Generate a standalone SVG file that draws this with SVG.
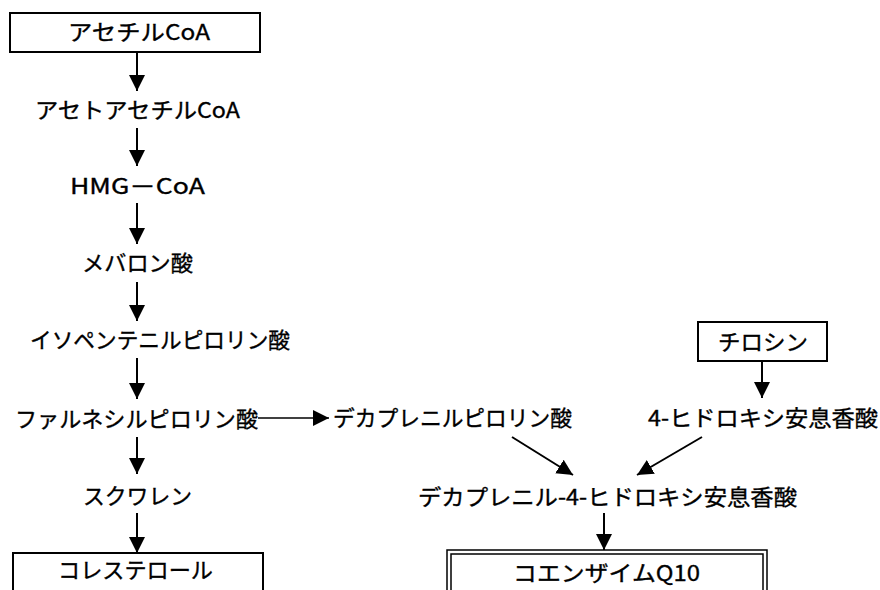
<svg xmlns="http://www.w3.org/2000/svg" width="880" height="590" viewBox="0 0 880 590">
<style>
text{font-family:"Noto Sans CJK JP","Liberation Sans",sans-serif;font-size:22px;fill:#000;stroke:#000;stroke-width:0.35}
.box{fill:#fff;stroke:#000;stroke-width:2}
.dbl{fill:none;stroke:#000;stroke-width:1.5}
.ar{stroke:#000;stroke-width:2;fill:none;marker-end:url(#ah)}
.thin{stroke-width:1.5}
</style>
<defs>
<marker id="ah" markerUnits="userSpaceOnUse" markerWidth="16" markerHeight="16" refX="16" refY="8" orient="auto"><path d="M0,0 L16,8 L0,16 z" fill="#000"/></marker>
</defs>
<rect width="880" height="590" fill="#fff"/>
<g id="connectors">
<line class="ar" x1="137" y1="52" x2="137" y2="91"/>
<line class="ar" x1="137" y1="128" x2="137" y2="166"/>
<line class="ar" x1="137" y1="203" x2="137" y2="244"/>
<line class="ar" x1="137" y1="282" x2="137" y2="321"/>
<line class="ar" x1="137" y1="358" x2="137" y2="399"/>
<line class="ar thin" x1="258" y1="418" x2="329" y2="418"/>
<line class="ar" x1="137" y1="437" x2="137" y2="474"/>
<line class="ar" x1="137" y1="513" x2="137" y2="553"/>
<line class="ar" x1="762" y1="361" x2="762" y2="398"/>
<line class="ar" x1="512" y1="437" x2="573" y2="475"/>
<line class="ar" x1="702" y1="437" x2="637" y2="475"/>
<line class="ar" x1="604" y1="513" x2="604" y2="550"/>
</g>
<g id="acetylcoa"><rect class="box" x="10" y="13" width="250" height="39"/><text x="68" y="40" textLength="142" lengthAdjust="spacingAndGlyphs">アセチルCoA</text></g>
<g id="acetoacetylcoa"><text x="35" y="118" textLength="205" lengthAdjust="spacingAndGlyphs">アセトアセチルCoA</text></g>
<g id="hmgcoa"><text x="70" y="194" textLength="135" lengthAdjust="spacingAndGlyphs">HMG－CoA</text></g>
<g id="mevalonate"><text x="82" y="271" textLength="111" lengthAdjust="spacingAndGlyphs">メバロン酸</text></g>
<g id="ipp"><text x="30" y="348" textLength="260" lengthAdjust="spacingAndGlyphs">イソペンテニルピロリン酸</text></g>
<g id="fpp"><text x="15" y="427" textLength="243" lengthAdjust="spacingAndGlyphs">ファルネシルピロリン酸</text></g>
<g id="squalene"><text x="83" y="504" textLength="109" lengthAdjust="spacingAndGlyphs">スクワレン</text></g>
<g id="cholesterol"><rect class="box" x="13" y="553" width="250" height="45"/><text x="58" y="578" textLength="155" lengthAdjust="spacingAndGlyphs">コレステロール</text></g>
<g id="decaprenylpp"><text x="333" y="426" textLength="239" lengthAdjust="spacingAndGlyphs">デカプレニルピロリン酸</text></g>
<g id="tyrosine"><rect class="box" x="698" y="322" width="129" height="39"/><text x="718" y="350" textLength="90" lengthAdjust="spacingAndGlyphs">チロシン</text></g>
<g id="hba"><text x="648" y="426" textLength="230" lengthAdjust="spacingAndGlyphs">4-ヒドロキシ安息香酸</text></g>
<g id="decaprenylhba"><text x="418" y="505" textLength="379" lengthAdjust="spacingAndGlyphs">デカプレニル-4-ヒドロキシ安息香酸</text></g>
<g id="coq10"><rect class="dbl" x="447" y="550" width="320" height="50"/><rect class="dbl" x="451" y="554" width="312" height="46"/><text x="513" y="581" textLength="187" lengthAdjust="spacingAndGlyphs">コエンザイムQ10</text></g>
</svg>
